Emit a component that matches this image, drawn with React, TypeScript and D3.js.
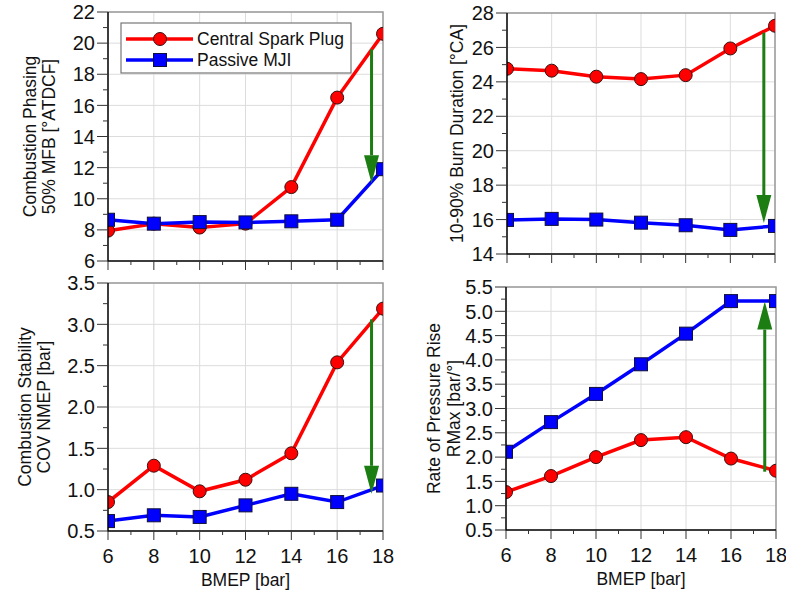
import React, {useRef, useEffect} from 'react';
import * as d3 from 'd3';

// BMEP [bar]
const bmep = [6, 8, 10, 12, 14, 16, 18];

// Combustion phasing, 50% MFB [°ATDCF]
const phasingCsp = [7.95, 8.4, 8.15, 8.4, 10.75, 16.5, 20.6];
const phasingMji = [8.65, 8.4, 8.5, 8.48, 8.55, 8.65, 11.9];

// 10-90% burn duration [°CA]
const burnCsp = [24.76, 24.65, 24.3, 24.16, 24.39, 25.94, 27.26];
const burnMji = [15.98, 16.04, 16.0, 15.82, 15.67, 15.4, 15.63];

// COV NMEP [bar]
const covCsp = [0.85, 1.29, 0.98, 1.12, 1.44, 2.54, 3.19];
const covMji = [0.62, 0.69, 0.67, 0.81, 0.95, 0.85, 1.05];

// RMax [bar/°]
const rmaxCsp = [1.28, 1.61, 2.0, 2.35, 2.41, 1.97, 1.72];
const rmaxMji = [2.11, 2.72, 3.3, 3.91, 4.54, 5.21, 5.21];

// green arrows: [x, from, to]
const arrowPhasing = [17.5, 19.6, 11.0];
const arrowBurn = [17.5, 26.85, 15.8];
const arrowCov = [17.5, 3.06, 0.95];
const arrowRmax = [17.5, 1.7, 5.2];

const seriesNames = ['Central Spark Plug', 'Passive MJI'];
const xLabel = 'BMEP [bar]';

const FONT = 'Arial, "Liberation Sans", sans-serif';
const RED = '#ff0000';
const BLUE = '#0000ff';
const GREEN = '#1b7d12';

const panels = [
    {
        id: 'p1', left: 108, right: 383, top: 12, bottom: 261,
        domain: [6, 22], major: 2, minor: 1, fmt: d3.format('d'),
        csp: phasingCsp, mji: phasingMji, arrow: arrowPhasing,
        label: ['Combustion Phasing', '50% MFB [°ATDCF]'], labelX: [36, 55],
        xLabels: false, legend: true,
    },
    {
        id: 'p2', left: 507, right: 775, top: 13, bottom: 254,
        domain: [14, 28], major: 2, minor: 1, fmt: d3.format('d'),
        csp: burnCsp, mji: burnMji, arrow: arrowBurn,
        label: ['10-90% Burn Duration [°CA]'], labelX: [463],
        xLabels: false, legend: false,
    },
    {
        id: 'p3', left: 108, right: 383, top: 283, bottom: 531,
        domain: [0.5, 3.5], major: 0.5, minor: 0.25, fmt: d3.format('.1f'),
        csp: covCsp, mji: covMji, arrow: arrowCov,
        label: ['Combustion Stability', 'COV NMEP [bar]'], labelX: [31, 50],
        xLabels: true, legend: false,
    },
    {
        id: 'p4', left: 506, right: 776, top: 287, bottom: 530,
        domain: [0.5, 5.5], major: 0.5, minor: 0.25, fmt: d3.format('.1f'),
        csp: rmaxCsp, mji: rmaxMji, arrow: arrowRmax,
        label: ['Rate of Pressure Rise', 'RMax [bar/°]'], labelX: [440, 460],
        xLabels: true, legend: false,
    },
];

const App = () => {
    const svgRef = useRef(null);

    useEffect(() => {
        const svg = d3.select(svgRef.current);
        svg.selectAll('*').remove();
        const defs = svg.append('defs');

        panels.forEach(p => {
            const x = d3.scaleLinear().domain([6, 18]).range([p.left, p.right]);
            const y = d3.scaleLinear().domain(p.domain).range([p.bottom, p.top]);
            const g = svg.append('g');

            defs.append('clipPath').attr('id', `clip-${p.id}`)
                .append('rect')
                .attr('x', p.left).attr('y', p.top)
                .attr('width', p.right - p.left).attr('height', p.bottom - p.top);

            const nMajor = Math.round((p.domain[1] - p.domain[0]) / p.major);
            const yMajor = d3.range(nMajor + 1).map(i => p.domain[0] + i * p.major);
            const nMinor = Math.round((p.domain[1] - p.domain[0]) / p.minor);
            const yMinor = d3.range(nMinor + 1).map(i => p.domain[0] + i * p.minor);
            const xMajor = d3.range(6, 19, 2);
            const xMinor = d3.range(6, 19, 1);

            // grid
            g.selectAll('.gy').data(yMajor).join('line')
                .attr('x1', p.left).attr('x2', p.right)
                .attr('y1', d => y(d)).attr('y2', d => y(d))
                .attr('stroke', '#dcdcdc').attr('stroke-width', 1);
            g.selectAll('.gx').data(xMajor).join('line')
                .attr('y1', p.top).attr('y2', p.bottom)
                .attr('x1', d => x(d)).attr('x2', d => x(d))
                .attr('stroke', '#dcdcdc').attr('stroke-width', 1);

            // top / right frame
            g.append('path')
                .attr('d', `M${p.left},${p.top}H${p.right}V${p.bottom}`)
                .attr('fill', 'none').attr('stroke', '#9a9a9a').attr('stroke-width', 1.5);

            const plot = g.append('g').attr('clip-path', `url(#clip-${p.id})`);
            const line = d3.line<number>()
                .x((d, i) => x(bmep[i]))
                .y(d => y(d));

            plot.append('path').datum(p.csp)
                .attr('d', line).attr('fill', 'none')
                .attr('stroke', RED).attr('stroke-width', 3.5);
            plot.append('path').datum(p.mji)
                .attr('d', line).attr('fill', 'none')
                .attr('stroke', BLUE).attr('stroke-width', 3.5);

            plot.selectAll('.mc').data(p.csp).join('circle')
                .attr('cx', (d, i) => x(bmep[i])).attr('cy', d => y(d)).attr('r', 6.5)
                .attr('fill', RED).attr('stroke', '#3a1010').attr('stroke-width', 1);
            plot.selectAll('.ms').data(p.mji).join('rect')
                .attr('x', (d, i) => x(bmep[i]) - 6.5).attr('y', d => y(d) - 6.5)
                .attr('width', 13).attr('height', 13)
                .attr('fill', BLUE).attr('stroke', '#10103a').attr('stroke-width', 1);

            // arrow
            const [ax, a0, a1] = p.arrow;
            const dir = y(a1) > y(a0) ? 1 : -1;
            const headLen = 28;
            const tipY = y(a1);
            const baseY = tipY - dir * headLen;
            plot.append('line')
                .attr('x1', x(ax)).attr('x2', x(ax))
                .attr('y1', y(a0)).attr('y2', baseY)
                .attr('stroke', GREEN).attr('stroke-width', 3);
            plot.append('path')
                .attr('d', `M${x(ax) - 7.5},${baseY}L${x(ax) + 7.5},${baseY}L${x(ax)},${tipY}Z`)
                .attr('fill', GREEN);

            // axes
            const axisG = g.append('g').attr('stroke', '#000');
            axisG.append('line')
                .attr('x1', p.left).attr('x2', p.left).attr('y1', p.top).attr('y2', p.bottom + 0.5)
                .attr('stroke-width', 1.5);
            axisG.append('line')
                .attr('x1', p.left).attr('x2', p.right).attr('y1', p.bottom).attr('y2', p.bottom)
                .attr('stroke-width', 1.5);
            axisG.selectAll('.ty').data(yMinor).join('line')
                .attr('x1', (d, i) => p.left - (i % 2 === 0 ? 11 : 5)).attr('x2', p.left)
                .attr('y1', d => y(d)).attr('y2', d => y(d))
                .attr('stroke', '#333').attr('stroke-width', 1);
            axisG.selectAll('.tx').data(xMinor).join('line')
                .attr('y1', p.bottom).attr('y2', (d, i) => p.bottom + (i % 2 === 0 ? 9 : 4))
                .attr('x1', d => x(d)).attr('x2', d => x(d))
                .attr('stroke', '#333').attr('stroke-width', 1);

            g.selectAll('.ly').data(yMajor).join('text')
                .attr('x', p.left - 13).attr('y', d => y(d)).attr('dy', '0.36em')
                .attr('text-anchor', 'end')
                .attr('font-family', FONT).attr('font-size', 20).attr('fill', '#111')
                .text(d => p.fmt(d));

            if (p.xLabels) {
                g.selectAll('.lx').data(xMajor).join('text')
                    .attr('x', d => x(d)).attr('y', p.bottom + 32)
                    .attr('text-anchor', 'middle')
                    .attr('font-family', FONT).attr('font-size', 20).attr('fill', '#111')
                    .text(d => d);
                g.append('text')
                    .attr('x', (p.left + p.right) / 2).attr('y', p.bottom + 55)
                    .attr('text-anchor', 'middle')
                    .attr('font-family', FONT).attr('font-size', 17.5).attr('fill', '#111')
                    .text(xLabel);
            }

            // y label
            const cy = (p.top + p.bottom) / 2;
            p.label.forEach((t, i) => {
                g.append('text')
                    .attr('transform', `translate(${p.labelX[i]},${cy}) rotate(-90)`)
                    .attr('text-anchor', 'middle')
                    .attr('font-family', FONT).attr('font-size', 17.5).attr('fill', '#111')
                    .text(t);
            });

            if (p.legend) {
                const lg = g.append('g');
                lg.append('rect')
                    .attr('x', 121).attr('y', 23).attr('width', 230).attr('height', 50)
                    .attr('fill', '#fff').attr('stroke', '#777').attr('stroke-width', 1.2);
                [RED, BLUE].forEach((c, i) => {
                    const ly = 39 + i * 21;
                    lg.append('line')
                        .attr('x1', 126).attr('x2', 193).attr('y1', ly).attr('y2', ly)
                        .attr('stroke', c).attr('stroke-width', 3.5);
                    if (i === 0) {
                        lg.append('circle').attr('cx', 160).attr('cy', ly).attr('r', 6.5)
                            .attr('fill', RED).attr('stroke', '#3a1010');
                    } else {
                        lg.append('rect').attr('x', 153.5).attr('y', ly - 6.5)
                            .attr('width', 13).attr('height', 13)
                            .attr('fill', BLUE).attr('stroke', '#10103a');
                    }
                    lg.append('text')
                        .attr('x', 197).attr('y', ly + 6)
                        .attr('font-family', FONT).attr('font-size', 17.5).attr('fill', '#111')
                        .text(seriesNames[i]);
                });
            }
        });
    }, []);

    return (
        <div style={{position: 'absolute', left: 0, top: 0}}>
            <svg ref={svgRef} width={786} height={594} style={{display: 'block', background: '#fff'}}/>
        </div>
    );
};

export default App;
